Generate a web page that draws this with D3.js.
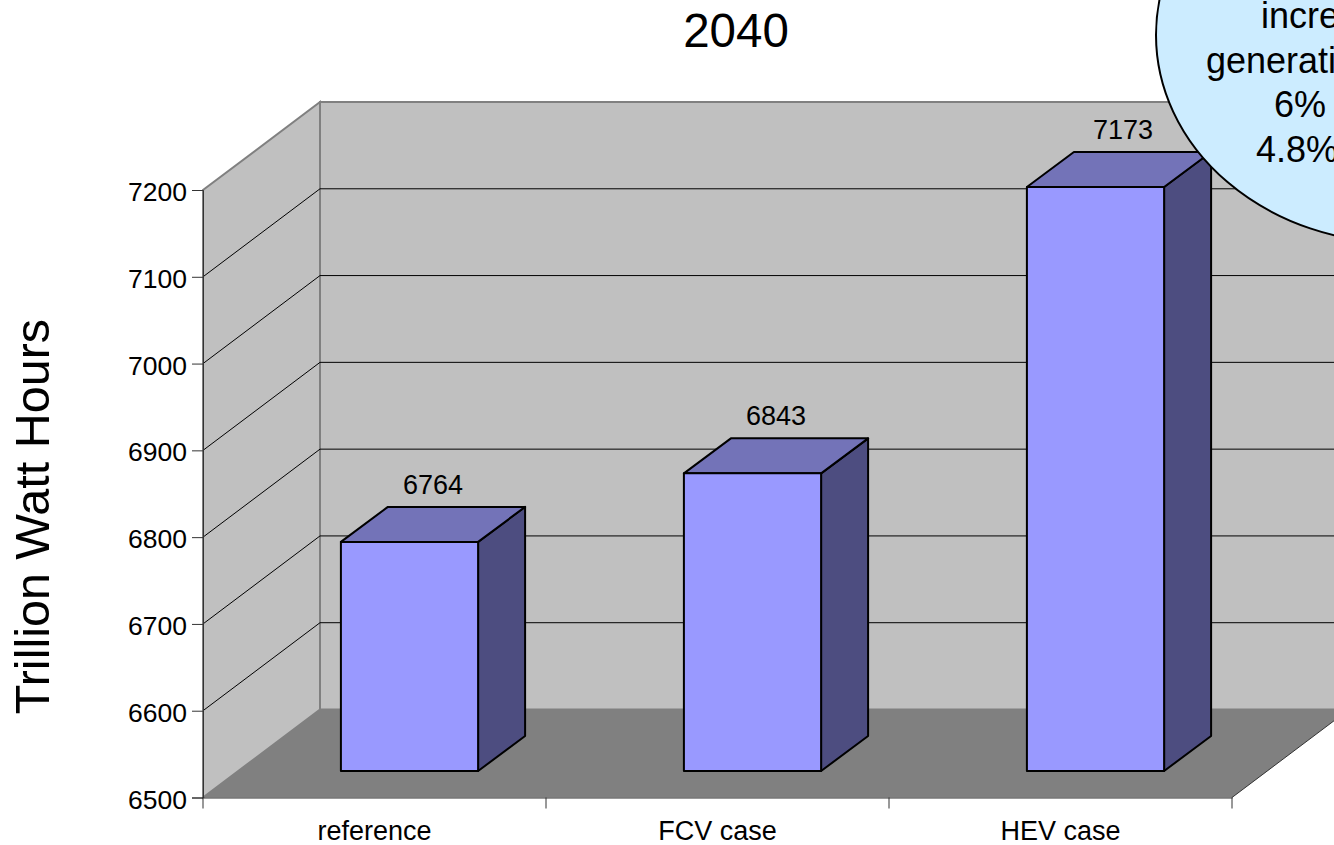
<!DOCTYPE html>
<meta charset="utf-8">
<head>
<title>Trillion Watt Hours 2040</title>
<style>
html, body { margin: 0; padding: 0; background: #FFF; overflow: hidden; }
svg { display: block; }
text { font-family: 'Liberation Sans', Arial, sans-serif; fill: #000; }
</style>
</head>
<body>
<script src="https://cdnjs.cloudflare.com/ajax/libs/d3/7.8.5/d3.min.js"></script>
<script>
var categories = ["reference", "FCV case", "HEV case"];
var values = [6764, 6843, 7173];
var yTicks = [6500, 6600, 6700, 6800, 6900, 7000, 7100, 7200];
var calloutLines = ["incre", "generati", "6%", "4.8%"];
var calloutLeft = [1261, 1206, 1274, 1256];

var width = 1334, height = 845;
var x0 = 203, x1 = 1232, yBase = 797.5, yTop = 190;
var depthX = 117, depthY = 88;      // wall depth
var barDY = 26.5, barDX = 35;       // bars sit a bit behind the front edge
var barDepthX = 47, barDepthY = 35;
var labelNudge = [0, 0, 4];

var svg = d3.select("body").append("svg")
    .attr("width", width).attr("height", height);

var x = d3.scaleBand().domain(categories).range([x0, x1]);
var y = d3.scaleLinear().domain([6500, 7200]).range([yBase, yTop]);
var barW = x.step() * 0.4;

function poly(pts) { return pts.map(function(p){ return p.join(","); }).join(" "); }

// walls and floor
svg.append("polygon")
    .attr("points", poly([[x0+depthX, y(7200)-depthY], [x1+depthX, y(7200)-depthY], [x1+depthX, y(6500)-depthY], [x0+depthX, y(6500)-depthY]]))
    .attr("fill", "#C0C0C0").attr("stroke", "#808080").attr("stroke-width", 2);
svg.append("polygon")
    .attr("points", poly([[x0, y(6500)], [x0, y(7200)], [x0+depthX, y(7200)-depthY], [x0+depthX, y(6500)-depthY]]))
    .attr("fill", "#C0C0C0").attr("stroke", "#808080").attr("stroke-width", 2);
svg.append("polygon")
    .attr("points", poly([[x0, y(6500)], [x1, y(6500)], [x1+depthX, y(6500)-depthY], [x0+depthX, y(6500)-depthY]]))
    .attr("fill", "#808080");
svg.append("line")
    .attr("x1", x1).attr("y1", y(6500)).attr("x2", x1+depthX).attr("y2", y(6500)-depthY)
    .attr("stroke", "#333").attr("stroke-width", 1);

// gridlines
var grid = yTicks.slice(1, -1);
svg.append("g").selectAll("line").data(grid)
    .enter().append("line")
    .attr("x1", x0+depthX).attr("x2", x1+depthX)
    .attr("y1", function(d){ return y(d)-depthY; }).attr("y2", function(d){ return y(d)-depthY; })
    .attr("stroke", "#000").attr("stroke-width", 1);
svg.append("g").selectAll("line").data(grid)
    .enter().append("line")
    .attr("x1", x0).attr("x2", x0+depthX)
    .attr("y1", function(d){ return y(d); }).attr("y2", function(d){ return y(d)-depthY; })
    .attr("stroke", "#000").attr("stroke-width", 1);

// axes
var yAxis = d3.axisLeft(y).tickValues(yTicks).tickSize(11).tickPadding(5).tickFormat(d3.format("d"));
var gy = svg.append("g").attr("transform", "translate(" + x0 + ",0)").call(yAxis);
gy.selectAll("text").attr("font-size", 26.5).attr("dy", "0.4em").style("font-family", "'Liberation Sans', Arial, sans-serif");
gy.selectAll("line,path").attr("stroke", "#333");

var xAxis = d3.axisBottom(x).tickSize(0).tickPadding(23);
var gx = svg.append("g").attr("transform", "translate(0," + yBase + ")").call(xAxis);
gx.selectAll("text").attr("font-size", 27).style("font-family", "'Liberation Sans', Arial, sans-serif");
gx.selectAll("path").attr("stroke", "#333");
svg.append("g").selectAll("line").data(d3.range(categories.length + 1))
    .enter().append("line")
    .attr("x1", function(i){ return x0 + i * x.step(); })
    .attr("x2", function(i){ return x0 + i * x.step(); })
    .attr("y1", yBase).attr("y2", yBase + 11)
    .attr("stroke", "#333");

// bars
var bars = svg.append("g").selectAll("g").data(values).enter().append("g")
    .attr("stroke", "#000").attr("stroke-width", 2).attr("stroke-linejoin", "round");
function barLeft(d, i) { return x(categories[i]) + (x.step() - barW) / 2 + barDX; }
bars.append("polygon").attr("fill", "#4D4D80").attr("points", function(d, i){
    var r = barLeft(d, i) + barW, t = y(d) - barDY, b = yBase - barDY;
    return poly([[r, t], [r+barDepthX, t-barDepthY], [r+barDepthX, b-barDepthY], [r, b]]);
});
bars.append("polygon").attr("fill", "#7373B8").attr("points", function(d, i){
    var l = barLeft(d, i), r = l + barW, t = y(d) - barDY;
    return poly([[l, t], [r, t], [r+barDepthX, t-barDepthY], [l+barDepthX, t-barDepthY]]);
});
bars.append("rect").attr("fill", "#9999FF")
    .attr("x", barLeft)
    .attr("y", function(d){ return y(d) - barDY; })
    .attr("width", barW)
    .attr("height", function(d){ return y(6500) - y(d); });

// value labels
svg.append("g").selectAll("text").data(values).enter().append("text")
    .attr("x", function(d, i){ return barLeft(d, i) + (barW + barDepthX) / 2 + labelNudge[i]; })
    .attr("y", function(d){ return y(d) - barDY - barDepthY - 13; })
    .attr("text-anchor", "middle").attr("font-size", 27)
    .text(function(d){ return d; });

// titles
svg.append("text").attr("x", 736).attr("y", 47).attr("text-anchor", "middle")
    .attr("font-size", 47.5).text("2040");
svg.append("text").attr("transform", "translate(49,516.5) rotate(-90)").attr("text-anchor", "middle")
    .attr("font-size", 48.5).text("Trillion Watt Hours");

// callout, runs off the page on the right
svg.append("ellipse")
    .attr("cx", 1400).attr("cy", 35).attr("rx", 244).attr("ry", 208)
    .attr("fill", "#CCECFF").attr("stroke", "#000").attr("stroke-width", 2);
svg.append("g").selectAll("text").data(calloutLines).enter().append("text")
    .attr("x", function(d, i){ return calloutLeft[i]; })
    .attr("y", function(d, i){ return 28 + i * 44.7; })
    .attr("font-size", 36)
    .text(function(d){ return d; });
</script>
</body>
